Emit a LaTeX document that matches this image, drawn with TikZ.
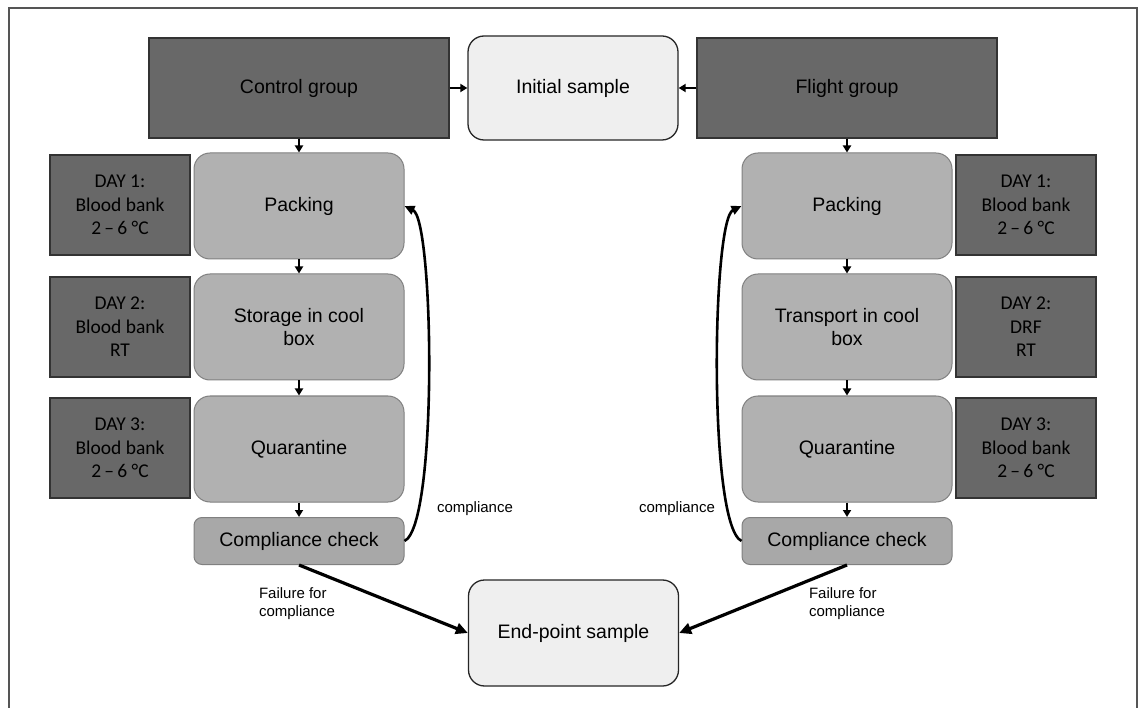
\documentclass[tikz,border=0pt]{standalone}
\usepackage{fontspec}
\setmainfont{Liberation Sans}
\newfontfamily\calib{Carlito}
\usetikzlibrary{arrows.meta}
\definecolor{darkbox}{RGB}{104,104,104}
\definecolor{procbox}{RGB}{177,177,177}
\definecolor{checkbox}{RGB}{168,168,168}
\definecolor{lightbox}{RGB}{239,239,239}
\definecolor{frameline}{RGB}{85,85,85}
\begin{document}
\begin{tikzpicture}[x=1pt,y=-1pt,
  groupbox/.style={draw=black!80,line width=1.2pt,fill=darkbox,minimum width=300pt,minimum height=100pt,inner sep=0pt,font=\fontsize{19.5}{23.5}\selectfont},
  daybox/.style={draw=black!80,line width=1.2pt,fill=darkbox,minimum width=140pt,minimum height=100pt,inner sep=0pt,align=center,font=\calib\fontsize{19.5}{23.5}\selectfont},
  procstep/.style={draw=black!50,line width=1pt,fill=procbox,rounded corners=16pt,minimum width=210pt,minimum height=106pt,inner sep=0pt,align=center,font=\fontsize{19.5}{23}\selectfont},
  checkstep/.style={draw=black!50,line width=1pt,fill=checkbox,rounded corners=8pt,minimum width=210pt,minimum height=47pt,inner sep=0pt,font=\fontsize{19.5}{23}\selectfont},
  samplebox/.style={draw=black!85,line width=1.3pt,fill=lightbox,rounded corners=16pt,minimum width=210pt,minimum height=104pt,inner sep=0pt,font=\fontsize{19.5}{23}\selectfont},
  smalltext/.style={font=\fontsize{15}{18}\selectfont,inner sep=0pt},
  shortarrow/.style={draw=black,line width=2pt,-{Triangle[length=7pt,width=8pt]}},
  curvearrow/.style={draw=black,line width=2.6pt,-{Triangle[length=10pt,width=9pt]}},
  failarrow/.style={draw=black,line width=3.2pt,-{Triangle[length=12pt,width=11pt]}}
]
\useasboundingbox (0,0) rectangle (1143,708);
\fill[white] (0,0) rectangle (1143,708);
\draw[frameline,line width=1.6pt] (9,708) -- (9,8) -- (1137,8) -- (1137,708);

% top row
\node[groupbox] (cg) at (299,88) {Control group};
\node[samplebox] (is) at (573,88) {Initial sample};
\node[groupbox] (fg) at (847,88) {Flight group};

% left column
\node[daybox] (ld1) at (120,205) {DAY 1:\\Blood bank\\2\,–\,6 °C};
\node[daybox] (ld2) at (120,327) {DAY 2:\\Blood bank\\RT};
\node[daybox] (ld3) at (120,448) {DAY 3:\\Blood bank\\2\,–\,6 °C};
\node[procstep] (lp) at (299,206) {Packing};
\node[procstep] (ls) at (299,327) {Storage in cool\\box};
\node[procstep] (lq) at (299,449) {Quarantine};
\node[checkstep] (lc) at (299,541) {Compliance check};

% right column
\node[daybox] (rd1) at (1026,205) {DAY 1:\\Blood bank\\2\,–\,6 °C};
\node[daybox] (rd2) at (1026,327) {DAY 2:\\DRF\\RT};
\node[daybox] (rd3) at (1026,448) {DAY 3:\\Blood bank\\2\,–\,6 °C};
\node[procstep] (rp) at (847,206) {Packing};
\node[procstep] (rs) at (847,327) {Transport in cool\\box};
\node[procstep] (rq) at (847,449) {Quarantine};
\node[checkstep] (rc) at (847,541) {Compliance check};

% end point
\node[samplebox,minimum height=106pt] (ep) at (573.5,633) {End-point sample};

% labels
\node[smalltext] (lcomp) at (475,509) {compliance};
\node[smalltext] (rcomp) at (677,509) {compliance};
\node[smalltext,align=left] (lfail) at (297,604) {Failure for\\compliance};
\node[smalltext,align=left] (rfail) at (847,604) {Failure for\\compliance};

% connectors
\draw[shortarrow] (cg.east) -- (is.west);
\draw[shortarrow] (fg.west) -- (is.east);
\draw[shortarrow] (cg.south) -- (lp.north);
\draw[shortarrow] (lp.south) -- (ls.north);
\draw[shortarrow] (ls.south) -- (lq.north);
\draw[shortarrow] (lq.south) -- (lc.north);
\draw[shortarrow] (fg.south) -- (rp.north);
\draw[shortarrow] (rp.south) -- (rs.north);
\draw[shortarrow] (rs.south) -- (rq.north);
\draw[shortarrow] (rq.south) -- (rc.north);

\draw[curvearrow] (lc.east) .. controls (438,525) and (434,220) .. (lp.east);
\draw[curvearrow] (rc.west) .. controls (708,525) and (712,220) .. (rp.west);

\draw[failarrow] (lc.south) -- (ep.west);
\draw[failarrow] (rc.south) -- (ep.east);
\end{tikzpicture}
\end{document}
